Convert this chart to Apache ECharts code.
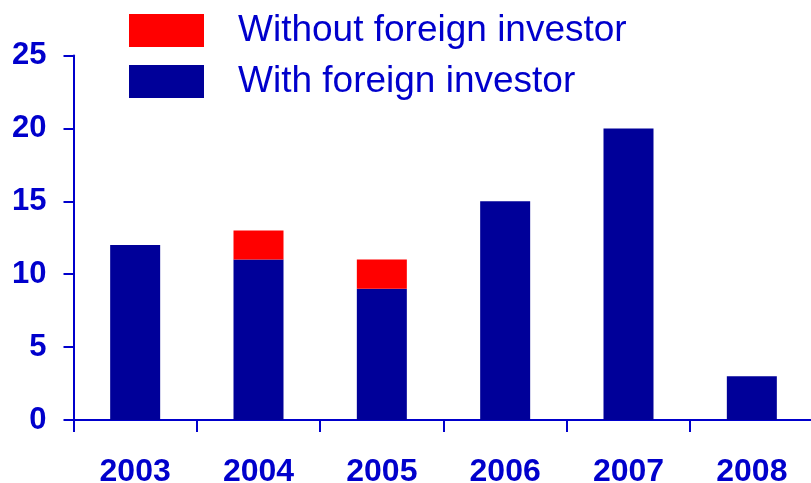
<!DOCTYPE html>
<html>
<head>
<meta charset="utf-8">
<script src="https://cdn.jsdelivr.net/npm/echarts@6/dist/echarts.min.js"></script>
<style>
  html, body { margin: 0; padding: 0; background: #fff; }
  #chart { width: 811px; height: 483px; }
</style>
</head>
<body>
<div id="chart"></div>
<script>
// Yearly counts, split by presence of a foreign investor
const years = ['2003', '2004', '2005', '2006', '2007', '2008'];
const withForeign = [12, 11, 9, 15, 20, 3];
const withoutForeign = [null, 2, 2, null, null, null];
const yTicks = { min: 0, max: 25, interval: 5 };

const textBlue = '#0000cc';
const barBlue = '#000099';
const barRed = '#ff0000';
const font = '"Liberation Sans", Arial, sans-serif';

const chart = echarts.init(document.getElementById('chart'), null, { renderer: 'canvas' });

chart.setOption({
  animation: false,
  backgroundColor: '#ffffff',
  grid: {
    left: 73.5, top: 55.5, width: 740, height: 364.5,
    containLabel: false,
    outerBoundsMode: 'none'
  },
  legend: {
    orient: 'vertical',
    left: 129,
    top: 12,
    padding: 0,
    itemWidth: 75,
    itemHeight: 33,
    itemGap: 14,
    icon: 'rect',
    data: ['Without foreign investor', 'With foreign investor'],
    textStyle: {
      color: textBlue,
      fontFamily: font,
      fontSize: 37,
      lineHeight: 30,
      padding: [3, 0, 0, 29]
    }
  },
  xAxis: {
    type: 'category',
    data: years,
    boundaryGap: true,
    axisLine: { lineStyle: { color: textBlue, width: 2 } },
    axisTick: { show: true, length: 12, interval: 0, lineStyle: { color: textBlue, width: 2 } },
    axisLabel: {
      color: textBlue,
      fontFamily: font,
      fontWeight: 'bold',
      fontSize: 32,
      margin: 36
    }
  },
  yAxis: {
    type: 'value',
    min: yTicks.min,
    max: yTicks.max,
    interval: yTicks.interval,
    splitLine: { show: false },
    axisLine: { show: true, lineStyle: { color: textBlue, width: 2 } },
    axisTick: { show: true, length: 10, lineStyle: { color: textBlue, width: 2 } },
    axisLabel: {
      color: textBlue,
      fontFamily: font,
      fontWeight: 'bold',
      fontSize: 31,
      margin: 27
    }
  },
  series: [
    {
      name: 'With foreign investor',
      type: 'bar',
      stack: 'total',
      barWidth: 50,
      itemStyle: { color: barBlue },
      data: withForeign
    },
    {
      name: 'Without foreign investor',
      type: 'bar',
      stack: 'total',
      barWidth: 50,
      itemStyle: { color: barRed },
      data: withoutForeign
    }
  ]
});
</script>
</body>
</html>
